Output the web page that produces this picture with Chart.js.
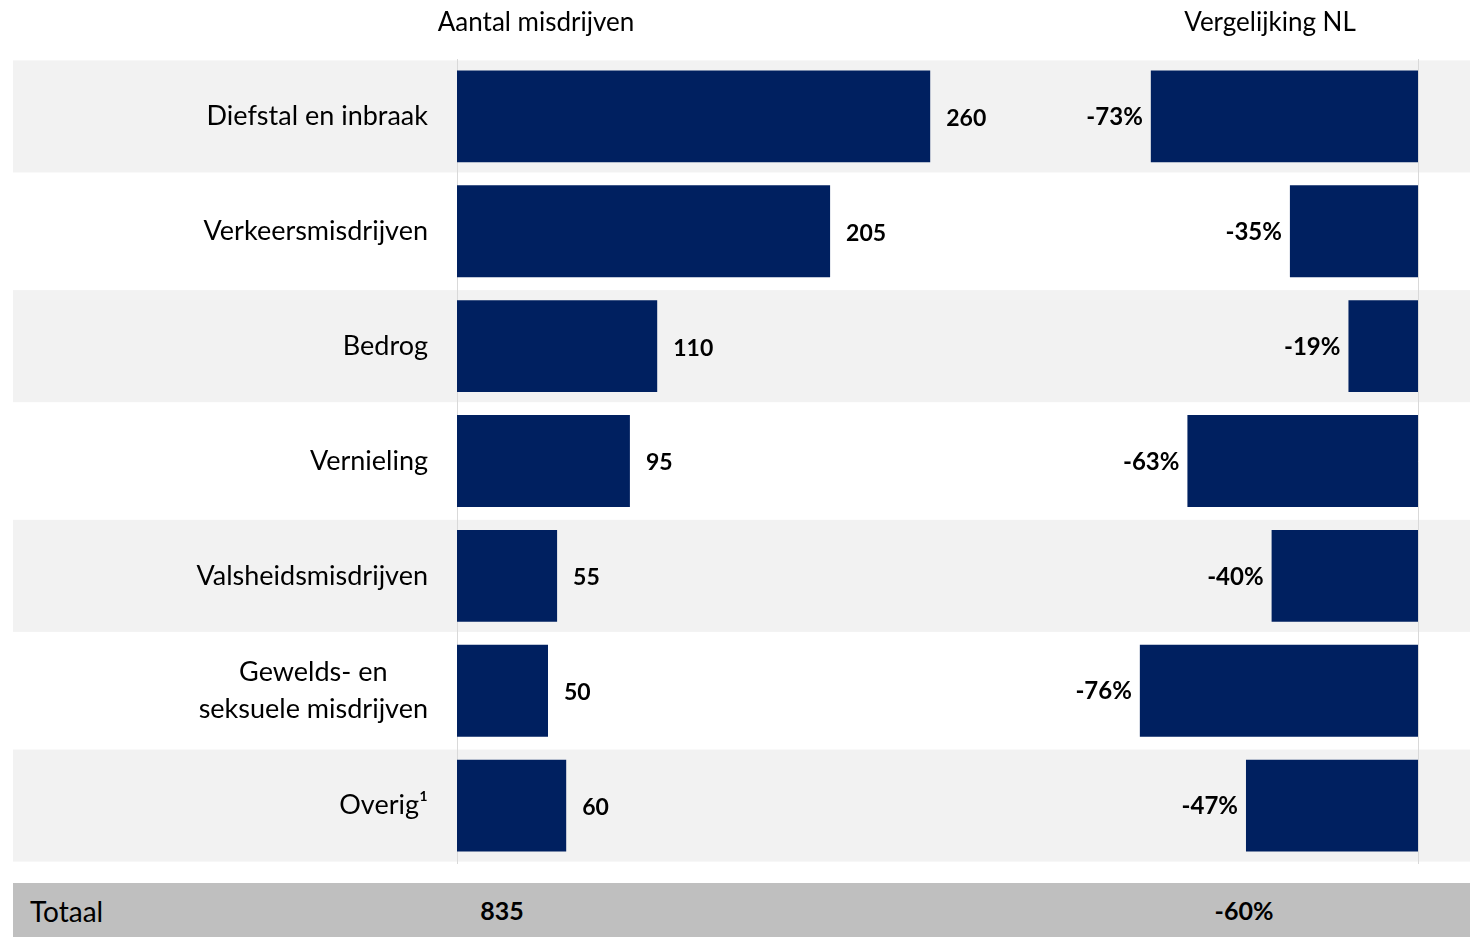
<!DOCTYPE html>
<html>
<head>
<meta charset="utf-8">
<script src="https://cdn.jsdelivr.net/npm/chart.js@4/dist/chart.umd.min.js"></script>
<style>
  html, body { margin:0; padding:0; background:#fff; width:1470px; height:937px; overflow:hidden; font-family: Lato, "Open Sans", sans-serif; }
  #wrap { position:absolute; left:0; top:0; width:1470px; height:937px; }
  canvas { position:absolute; left:0; top:0; }
  .title { position:absolute; top:5px; font-size:26px; color:#000; transform:translateX(-50%); white-space:nowrap; }
  #totaal { position:absolute; left:13px; top:883px; width:1457px; height:54px; background:#bfbfbf; }
  .tot { position:absolute; top:11px; font-size:28px; color:#000; white-space:nowrap; }
</style>
</head>
<body>
<div id="wrap">
  <canvas id="c" width="1470" height="937"></canvas>
  <div class="title" style="left:536px;">Aantal misdrijven</div>
  <div class="title" style="left:1270px;">Vergelijking NL</div>
  <div id="totaal">
    <div class="tot" style="left:17px;">Totaal</div>
    <div class="tot" id="totCount" style="left:489px; top:12px; transform:translateX(-50%); font-weight:bold; font-size:25px;"></div>
    <div class="tot" id="totPct" style="left:1231px; top:12px; transform:translateX(-50%); font-weight:bold; font-size:25px;"></div>
  </div>
</div>
<script>
const categories = [
  "Diefstal en inbraak",
  "Verkeersmisdrijven",
  "Bedrog",
  "Vernieling",
  "Valsheidsmisdrijven",
  ["Gewelds- en", "seksuele misdrijven"],
  "Overig\u00B9"
];
const aantal = [260, 205, 110, 95, 55, 50, 60];
const vergelijkingNL = [-73, -35, -19, -63, -40, -76, -47];
const totaalAantal = 835;
const totaalNL = -60;

document.getElementById('totCount').textContent = String(totaalAantal);
document.getElementById('totPct').textContent = totaalNL + '%';

const BAR = '#002060';
const FONT = 'Lato, "Open Sans", sans-serif';

const bandsPlugin = {
  id: 'bands',
  beforeDraw(chart) {
    const ctx = chart.ctx, y = chart.scales.y;
    const half = 56;
    ctx.save();
    ctx.fillStyle = '#f2f2f2';
    categories.forEach((c, i) => {
      if (i % 2 === 0) {
        const py = y.getPixelForValue(i);
        ctx.fillRect(13, py - half, 1470 - 13, half * 2);
      }
    });
    ctx.restore();
  },
  beforeDatasetsDraw(chart) {
    const ctx = chart.ctx, x2 = chart.scales.x2, a = chart.chartArea;
    const px = Math.round(x2.getPixelForValue(0)) + 0.5;
    ctx.save();
    ctx.strokeStyle = '#d9d9d9';
    ctx.lineWidth = 1;
    ctx.beginPath();
    ctx.moveTo(px, a.top);
    ctx.lineTo(px, a.bottom + 1);
    ctx.stroke();
    ctx.restore();
  },
  afterDatasetsDraw(chart) {
    const ctx = chart.ctx;
    ctx.save();
    ctx.fillStyle = '#000';
    ctx.textBaseline = 'middle';
    // category labels
    const y = chart.scales.y;
    const rightEdge = chart.chartArea.left - 29;
    ctx.font = '27px ' + FONT;
    categories.forEach((lab, i) => {
      const py = y.getPixelForValue(i);
      if (Array.isArray(lab)) {
        const w = Math.max(...lab.map(l => ctx.measureText(l).width));
        const cx = rightEdge - w / 2;
        const lh = 37;
        ctx.textAlign = 'center';
        lab.forEach((l, k) => {
          ctx.fillText(l, cx, py + (k - (lab.length - 1) / 2) * lh);
        });
      } else {
        ctx.textAlign = 'right';
        ctx.fillText(lab, rightEdge, py);
      }
    });
    // value labels
    ctx.font = 'bold 23px ' + FONT;
    const m0 = chart.getDatasetMeta(0), m1 = chart.getDatasetMeta(1);
    m0.data.forEach((bar, i) => {
      ctx.textAlign = 'left';
      ctx.fillText(String(aantal[i]), bar.x + 16, bar.y + 2);
    });
    ctx.font = 'bold 24px ' + FONT;
    m1.data.forEach((bar, i) => {
      ctx.textAlign = 'right';
      ctx.fillText(vergelijkingNL[i] + '%', bar.x - 8, bar.y + 1);
    });
    ctx.restore();
  }
};

new Chart(document.getElementById('c'), {
  type: 'bar',
  data: {
    labels: categories,
    datasets: [
      { label: 'Aantal misdrijven', data: aantal, xAxisID: 'x', backgroundColor: BAR, grouped: false,
        categoryPercentage: 0.8, barPercentage: 1.0 },
      { label: 'Vergelijking NL', data: vergelijkingNL, xAxisID: 'x2', backgroundColor: BAR, grouped: false,
        categoryPercentage: 0.8, barPercentage: 1.0 }
    ]
  },
  options: {
    indexAxis: 'y',
    responsive: false,
    animation: false,
    devicePixelRatio: 1,
    layout: { padding: { top: 59, bottom: 74, left: 0, right: 0 } },
    plugins: { legend: { display: false }, tooltip: { enabled: false } },
    scales: {
      x: { type: 'linear', display: false, min: 0, max: (1470 - 457) / 1.82 },
      x2: { type: 'linear', display: false, min: -(1418 - 457) / 3.66, max: (1470 - 1418) / 3.66 },
      y: {
        grid: { display: false },
        border: { display: true, color: '#d9d9d9', width: 1 },
        ticks: { display: false },
        afterFit(scale) { scale.width = 457; }
      }
    }
  },
  plugins: [bandsPlugin]
});
</script>
</body>
</html>
